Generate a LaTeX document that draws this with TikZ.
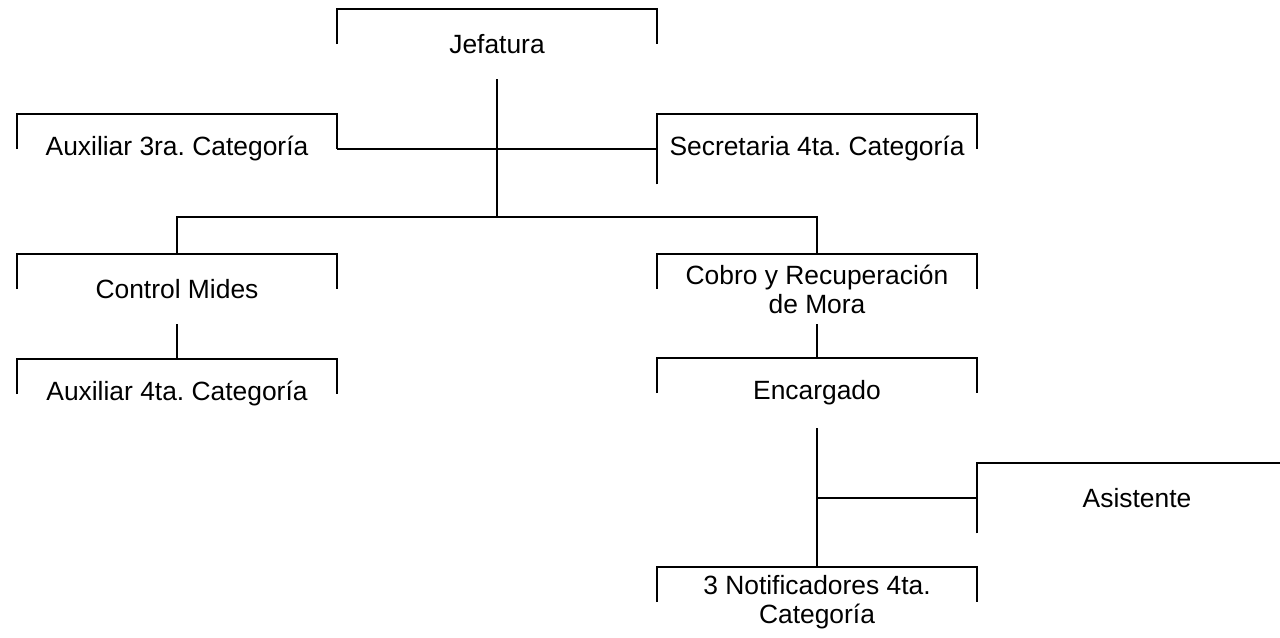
\documentclass[tikz,border=0pt]{standalone}
\usepackage{fontspec}
\setmainfont{Liberation Sans}
\frenchspacing
\begin{document}
\begin{tikzpicture}[x=0.75pt,y=-0.75pt,
  unit/.style={rectangle,inner sep=0pt,minimum width=240pt,minimum height=52.5pt,
    align=center,font=\fontsize{19.8pt}{21.75pt}\selectfont},
  ln/.style={line width=1.6pt}]
\clip (0,0) rectangle (1280,637);
\fill[white] (0,0) rectangle (1280,637);
% units (center x, top+35)
\node[unit] (jef)   at (497,44)  {Jefatura};
\node[unit] (aux3)  at (177,149) {Auxiliar 3ra. Categoría};
\node[unit] (sec)   at (817,149) {Secretaria 4ta. Categoría};
\node[unit] (ctrl)  at (177,289) {Control Mides};
\node[unit] (cobro) at (817,289) {Cobro y Recuperación\\de Mora};
\node[unit] (aux4)  at (177,394) {Auxiliar 4ta. Categoría};
\node[unit] (enc)   at (817,393) {Encargado};
\node[unit] (asis)  at (1137,498) {Asistente};
\node[unit] (notif) at (817,602) {3 Notificadores 4ta.\\Categoría};
% brackets
\foreach \n in {jef,aux3,ctrl,cobro,aux4,enc,notif}
  \draw[ln] (\n.west) |- (\n.north) -| (\n.east);
\draw[ln] (sec.south west) |- (sec.north) -| (sec.east);
\draw[ln] (asis.south west) |- (asis.north) -| (asis.east);
% connectors
\coordinate (bus) at (497,217);
\draw[ln] (jef.south) -- (bus);
\draw[ln] (aux3.east) -- (sec.west);
\draw[ln] (ctrl.north) |- (bus) -| (cobro.north);
\draw[ln] (ctrl.south) -- (aux4.north);
\draw[ln] (cobro.south) -- (enc.north);
\draw[ln] (enc.south) -- (notif.north);
\draw[ln] (enc.south |- asis.west) -- (asis.west);
\end{tikzpicture}
\end{document}
